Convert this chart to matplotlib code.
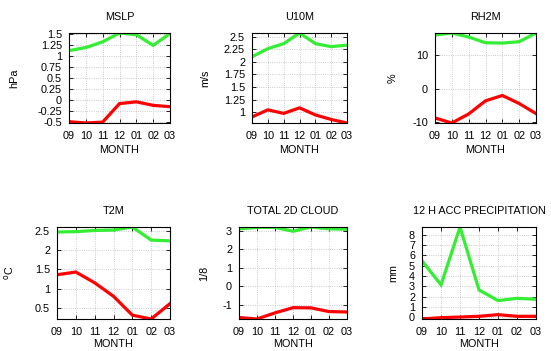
import matplotlib
matplotlib.use('Agg')
import matplotlib.pyplot as plt
import numpy as np

plt.rcParams['font.family'] = ['Liberation Sans', 'DejaVu Sans']
plt.rcParams['font.size'] = 7.5

months = ['09', '10', '11', '12', '01', '02', '03']

# upper (green) and lower (red) curves for each variable
mslp_hi = [1.12, 1.19, 1.32, 1.52, 1.48, 1.24, 1.51]
mslp_lo = [-0.49, -0.52, -0.50, -0.08, -0.04, -0.12, -0.15]
u10_hi = [2.10, 2.26, 2.36, 2.57, 2.36, 2.30, 2.33]
u10_lo = [0.91, 1.05, 0.98, 1.09, 0.95, 0.86, 0.79]
rh_hi = [16.0, 16.6, 15.4, 13.7, 13.6, 14.0, 16.6]
rh_lo = [-8.7, -10.2, -7.5, -3.6, -2.0, -4.4, -7.4]
t2m_hi = [2.47, 2.48, 2.51, 2.52, 2.60, 2.26, 2.24]
t2m_lo = [1.36, 1.43, 1.15, 0.80, 0.31, 0.21, 0.61]
cld_hi = [3.10, 3.18, 3.18, 2.97, 3.20, 3.10, 3.08]
cld_lo = [-1.68, -1.76, -1.43, -1.15, -1.16, -1.36, -1.38]
pcp_hi = [5.47, 3.14, 8.74, 2.65, 1.62, 1.84, 1.75]
pcp_lo = [-0.16, -0.03, 0.03, 0.10, 0.26, 0.10, 0.10]

titles = ['MSLP', 'U10M', 'RH2M', 'T2M', 'TOTAL 2D CLOUD', '12 H ACC PRECIPITATION']
units = ['hPa', 'm/s', '%', '$^{\\mathrm{o}}$C', '1/8', 'mm']
highs = [mslp_hi, u10_hi, rh_hi, t2m_hi, cld_hi, pcp_hi]
lows = [mslp_lo, u10_lo, rh_lo, t2m_lo, cld_lo, pcp_lo]
yticks = [np.arange(-0.5, 1.51, 0.25), np.arange(1.0, 2.51, 0.25), [-10, 0, 10],
          np.arange(0.5, 2.51, 0.5), [-1, 0, 1, 2, 3], np.arange(0, 9, 1)]

W, H = 551, 351
# axes boxes in pixels: left, right, top, bottom
boxes = [(69, 170, 33, 123), (252, 347, 33, 123), (435, 536, 33, 123),
         (57, 170, 227, 319), (239, 347, 227, 319), (422, 536, 227, 319)]
# x pixel of the unit label centre
unit_x = [19, 210, 398, 16, 209, 398]
# y pixel of the MONTH label centre
month_y = [150, 150, 150, 344, 344, 344]

fig = plt.figure(figsize=(W / 100, H / 100), dpi=100)
x = np.arange(len(months))

for i in range(6):
    l, r, t, b = boxes[i]
    ax = fig.add_axes([l / W, 1 - b / H, (r - l) / W, (b - t) / H])
    ax.plot(x, highs[i], color='#33ee33', lw=2.3, solid_joinstyle='miter')
    ax.plot(x, lows[i], color='#ff0000', lw=2.3, solid_joinstyle='miter')
    ax.set_xlim(0, 6)
    ax.set_ylim(min(lows[i]), max(highs[i]))
    ax.set_xticks(x)
    ax.set_xticklabels(months)
    ax.set_yticks(yticks[i])
    ax.set_yticklabels(['%g' % v for v in yticks[i]])
    ax.tick_params(direction='in', length=3, width=0.6, top=True, right=True,
                   labelsize=7.8)
    ax.tick_params(axis='x', pad=6)
    ax.tick_params(axis='y', pad=5)
    ax.grid(True, color='#bbbbbb', linestyle=':', linewidth=0.6)
    for s in ax.spines.values():
        s.set_linewidth(0.8)
    ax.set_title(titles[i], fontsize=7.8, pad=9)
    ax.set_xlabel('MONTH', fontsize=7.8, va='center')
    ax.xaxis.set_label_coords(0.5, (b - month_y[i]) / (b - t))
    ax.set_ylabel(units[i], fontsize=7.8)
    ax.yaxis.set_label_coords((unit_x[i] - l) / (r - l), 0.5)

fig.savefig('out.png', dpi=100)
